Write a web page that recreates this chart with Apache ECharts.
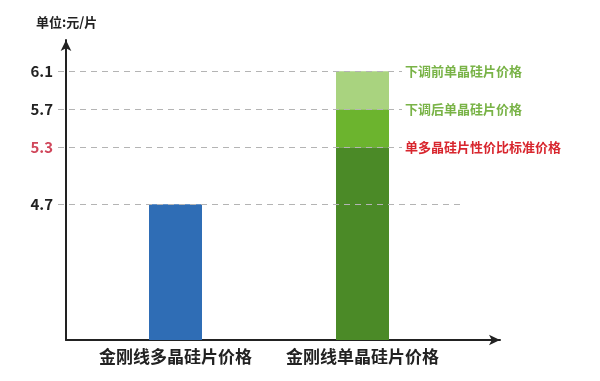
<!DOCTYPE html>
<html><head><meta charset="utf-8">
<script src="https://cdn.jsdelivr.net/npm/echarts@6/dist/echarts.min.js"></script>
<style>html,body{margin:0;padding:0;background:#fff}#c{width:600px;height:381px}</style>
</head><body><div id="c"></div>
<script>
var categories = ['金刚线多晶硅片价格', '金刚线单晶硅片价格'];
var polyPrice = [4.7, null];
var monoStandard = [null, 5.3];
var monoAfter = [null, 5.7];
var monoBefore = [null, 6.1];
var tickValues = [4.7, 5.3, 5.7, 6.1];
var levelNames = ['单多晶硅片性价比标准价格', '下调后单晶硅片价格', '下调前单晶硅片价格'];
var unitLabel = '单位:元/片';

var Y_MIN = 3.27, Y_MAX = 6.43;
var FONT = '"Noto Sans CJK SC", "Noto Sans", sans-serif';
var GREEN_TXT = '#79b347', RED_TXT = '#d8262e', GREY = '#b4b4b4';

function diff(a, b) { return a.map(function (v, i) { return v == null || b[i] == null ? null : +(v - b[i]).toFixed(4); }); }
var base = polyPrice.map(function (v, i) { return v != null ? { value: v, itemStyle: { color: '#2f6db5' } } : { value: monoStandard[i], itemStyle: { color: '#4b8a27' } }; });

function dashLine(val, x0, x1, labelText, labelColor) {
  return [
    { yAxis: val, x: x0 },
    { yAxis: val, x: x1, label: labelText ? { show: true, position: 'end', formatter: labelText, color: labelColor, fontSize: 13, fontWeight: 'bold', fontFamily: FONT, distance: 3 } : { show: false } }
  ];
}

var chart = echarts.init(document.getElementById('c'));
chart.setOption({
  animation: false,
  backgroundColor: '#fff',
  title: { text: unitLabel, left: 31, top: 11, textStyle: { fontSize: 13, fontWeight: 'bold', color: '#222', fontFamily: FONT } },
  grid: [
    { left: 66, right: 100, top: 40, bottom: 41 },
    { left: 82, right: 144, top: 40, bottom: 41 }
  ],
  xAxis: [
    { gridIndex: 0, type: 'value', min: 0, max: 1, axisLine: { show: true, onZero: false, symbol: ['none', 'arrow'], symbolSize: [8, 11], lineStyle: { color: '#222', width: 2 } }, axisTick: { show: false }, axisLabel: { show: false }, splitLine: { show: false } },
    { gridIndex: 1, type: 'category', data: categories, axisLine: { show: false }, axisTick: { show: false }, axisLabel: { interval: 0, hideOverlap: false, margin: 8, fontSize: 17, fontWeight: 'bold', color: '#222', fontFamily: FONT } }
  ],
  yAxis: [
    { gridIndex: 0, type: 'value', min: Y_MIN, max: Y_MAX,
      axisLine: { show: true, onZero: false, symbol: ['none', 'arrow'], symbolSize: [8, 11], lineStyle: { color: '#222', width: 2 } },
      axisTick: { show: false }, splitLine: { show: false },
      axisLabel: { customValues: tickValues, margin: 13, fontSize: 15, fontWeight: 'bold', fontFamily: FONT,
        formatter: function (v) { return v.toFixed(1); },
        color: function (v) { return Math.abs(v - 5.3) < 1e-6 ? '#d0465a' : '#222'; } } },
    { gridIndex: 1, type: 'value', min: Y_MIN, max: Y_MAX, show: false }
  ],
  series: [
    { type: 'bar', xAxisIndex: 1, yAxisIndex: 1, stack: 's', barWidth: 53, data: base,
      markLine: { silent: true, symbol: ['none', 'none'], lineStyle: { type: [6, 5], color: GREY, width: 1.2 },
        data: [
          dashLine(tickValues[0], 58, 463, null, null),
          dashLine(tickValues[1], 58, 402, levelNames[0], RED_TXT),
          dashLine(tickValues[2], 58, 402, levelNames[1], GREEN_TXT),
          dashLine(tickValues[3], 58, 402, levelNames[2], GREEN_TXT)
        ] } },
    { type: 'bar', xAxisIndex: 1, yAxisIndex: 1, stack: 's', barWidth: 53, itemStyle: { color: '#6cb42e' }, data: diff(monoAfter, monoStandard) },
    { type: 'bar', xAxisIndex: 1, yAxisIndex: 1, stack: 's', barWidth: 53, itemStyle: { color: '#a9d37f' }, data: diff(monoBefore, monoAfter) }
  ]
});
</script></body></html>
